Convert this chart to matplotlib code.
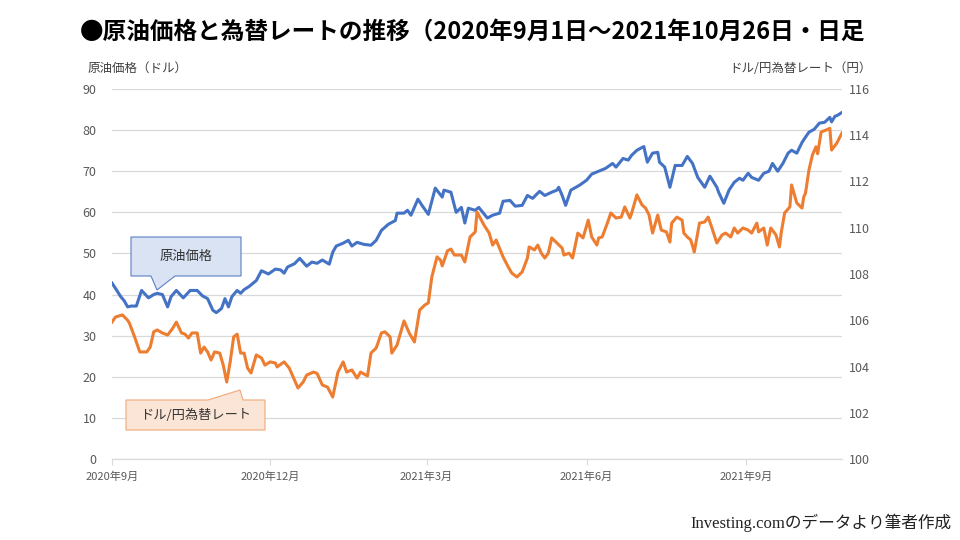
import pandas as pd
import matplotlib.pyplot as plt
from matplotlib.patches import Polygon

plt.rcParams['font.family'] = ['Noto Sans CJK JP', 'DejaVu Sans']

# days counted from 2020-09-01
start = pd.Timestamp('2020-09-01')
end = pd.Timestamp('2021-10-26')

oil_days = [0, 2, 5, 7, 9, 11, 14, 17, 21, 24, 26, 29, 32, 34, 37, 41, 45, 49, 52, 55,
            58, 60, 63, 65, 67, 69, 72, 74, 76, 79, 83, 86, 90, 94, 97, 99, 101, 105, 108, 112,
            115, 118, 121, 125, 127, 129, 133, 136, 138, 141, 145, 149, 152, 155, 159, 163, 164, 168, 170, 172,
            176, 179, 182, 186, 190, 191, 195, 198, 201, 203, 205, 209, 211, 216, 219, 223, 225, 229, 232, 236,
            239, 242, 246, 249, 253, 256, 257, 259, 261, 264, 269, 273, 276, 280, 284, 288, 290, 294, 297, 299,
            302, 306, 308, 311, 314, 315, 318, 321, 324, 328, 331, 334, 337, 341, 344, 348, 349, 352, 355, 358,
            361, 363, 366, 368, 372, 375, 378, 380, 383, 386, 389, 391, 394, 397, 399, 401, 404, 407, 410, 413,
            414, 416, 417, 420]
oil_price = [42.8, 41.5, 39.5, 38.5, 37.0, 37.2, 37.2, 41.0, 39.2, 40.0, 40.3, 40.0, 37.0, 39.5, 41.0, 39.2, 41.0, 41.0, 39.7, 39.0,
             36.2, 35.6, 36.6, 39.0, 37.0, 39.5, 41.0, 40.3, 41.2, 42.0, 43.4, 45.8, 45.0, 46.2, 46.0, 45.2, 46.7, 47.5, 48.8, 46.9,
             47.9, 47.6, 48.4, 47.4, 50.3, 51.8, 52.5, 53.2, 51.8, 52.7, 52.2, 52.0, 53.2, 55.6, 57.1, 58.0, 59.8, 59.8, 60.5, 59.3,
             63.2, 61.3, 59.5, 65.9, 63.7, 65.4, 64.9, 60.0, 61.2, 57.4, 61.0, 60.5, 61.2, 58.6, 59.3, 59.8, 62.7, 62.9, 61.5, 61.7,
             64.1, 63.4, 65.1, 64.1, 64.9, 65.4, 66.1, 64.1, 61.7, 65.4, 66.6, 67.8, 69.3, 70.0, 70.7, 71.9, 71.0, 73.1, 72.7, 73.9,
             75.1, 76.0, 72.2, 74.4, 74.6, 72.2, 71.0, 66.1, 71.4, 71.4, 73.6, 71.9, 68.5, 66.1, 68.8, 66.1, 64.9, 62.2, 65.4, 67.3,
             68.3, 67.8, 69.5, 68.5, 67.8, 69.5, 70.0, 71.9, 70.0, 71.9, 74.4, 75.1, 74.4, 77.0, 78.3, 79.5, 80.2, 81.7, 81.9, 83.1,
             82.0, 83.4, 83.5, 84.3]

fx_days = [0, 2, 6, 9, 10, 13, 16, 20, 22, 24, 26, 29, 32, 35, 37, 40, 42, 44, 46, 49,
           51, 53, 55, 57, 59, 62, 64, 66, 68, 70, 72, 74, 76, 78, 80, 83, 86, 88, 91, 94,
           95, 99, 102, 105, 107, 110, 112, 116, 118, 121, 124, 127, 130, 133, 135, 138, 141, 143, 147, 149,
           152, 155, 157, 160, 161, 164, 168, 171, 174, 177, 180, 182, 184, 187, 189, 190, 193, 195, 197, 201,
           203, 206, 209, 210, 214, 217, 219, 221, 225, 228, 230, 233, 236, 239, 240, 243, 245, 247, 249, 251,
           253, 256, 259, 260, 263, 265, 268, 271, 274, 276, 279, 280, 282, 285, 287, 290, 293, 295, 298, 299,
           302, 305, 307, 309, 311, 314, 316, 319, 321, 322, 325, 328, 329, 331, 333, 335, 338, 341, 343, 345,
           347, 348, 351, 353, 356, 358, 360, 363, 366, 368, 371, 372, 375, 377, 379, 382, 384, 385, 387, 390,
           391, 394, 397, 398, 399, 401, 403, 405, 406, 408, 411, 413, 414, 417, 420]
fx_rate = [105.92, 106.14, 106.23, 106.00, 105.88, 105.28, 104.63, 104.63, 104.84, 105.50, 105.58, 105.45, 105.36, 105.66, 105.92, 105.45, 105.40, 105.23, 105.45, 105.45,
           104.58, 104.84, 104.63, 104.28, 104.63, 104.58, 104.06, 103.33, 104.20, 105.28, 105.40, 104.58, 104.58, 103.93, 103.72, 104.50, 104.37, 104.06, 104.20, 104.15,
           103.98, 104.20, 103.93, 103.42, 103.07, 103.33, 103.63, 103.76, 103.70, 103.20, 103.11, 102.68, 103.76, 104.20, 103.76, 103.85, 103.50, 103.76, 103.59, 104.58,
           104.80, 105.45, 105.50, 105.28, 104.58, 104.93, 105.97, 105.45, 105.06, 106.44, 106.66, 106.75, 107.87, 108.74, 108.60, 108.35, 109.00, 109.08, 108.82, 108.82,
           108.52, 109.60, 109.82, 110.68, 110.12, 109.77, 109.25, 109.47, 108.74, 108.30, 108.04, 107.87, 108.09, 108.69, 109.17, 109.04, 109.25, 108.90, 108.69, 108.90,
           109.56, 109.34, 109.12, 108.82, 108.90, 108.69, 109.77, 109.56, 110.33, 109.60, 109.25, 109.56, 109.60, 110.20, 110.64, 110.42, 110.46, 110.90, 110.42, 110.64,
           111.42, 110.98, 110.85, 110.55, 109.77, 110.55, 109.90, 109.82, 109.38, 110.20, 110.46, 110.33, 109.77, 109.60, 109.47, 108.95, 110.20, 110.25, 110.46, 110.03,
           109.56, 109.34, 109.69, 109.77, 109.60, 109.99, 109.77, 109.99, 109.90, 109.77, 110.20, 109.82, 109.99, 109.25, 109.99, 109.69, 109.17, 109.77, 110.64, 110.90,
           111.85, 111.07, 110.85, 111.33, 111.50, 112.50, 113.15, 113.50, 113.20, 114.14, 114.23, 114.30, 113.36, 113.66, 114.10]

tick_dates = ['2020-09-01', '2020-12-01', '2021-03-01', '2021-06-01', '2021-09-01']
tick_labels = ['2020年9月', '2020年12月', '2021年3月', '2021年6月', '2021年9月']

oil_dates = start + pd.to_timedelta(oil_days, unit='D')
fx_dates = start + pd.to_timedelta(fx_days, unit='D')

W, H = 960, 540


def px(x, y):
    return (x / W, 1 - y / H)


fig = plt.figure(figsize=(9.6, 5.4), dpi=100)
ax = fig.add_axes([112 / W, 81 / H, 730 / W, 370 / H])
ax2 = ax.twinx()

ax.plot(oil_dates, oil_price, color='#4472c4', lw=2.2, solid_joinstyle='round')
ax2.plot(fx_dates, fx_rate, color='#ed7d31', lw=2.2, solid_joinstyle='round')

ax.set_xlim(start, end)
ax.set_ylim(0, 90)
ax2.set_ylim(100, 116)
ax.set_yticks(range(0, 91, 10))
ax2.set_yticks(range(100, 117, 2))
ax.set_xticks(pd.to_datetime(tick_dates))
ax.set_xticklabels(tick_labels)

ax.grid(axis='y', color='#d9d9d9', lw=0.9)
ax.set_axisbelow(True)
for a in (ax, ax2):
    for s in ('top', 'left', 'right'):
        a.spines[s].set_visible(False)
ax2.spines['bottom'].set_visible(False)
ax.spines['bottom'].set_color('#d9d9d9')
ax.spines['bottom'].set_linewidth(0.9)

ax.tick_params(axis='y', length=0, colors='#595959', labelsize=9, pad=11)
ax2.tick_params(axis='y', length=0, colors='#595959', labelsize=9, pad=5)
ax.tick_params(axis='x', length=4, color='#d9d9d9', labelcolor='#595959', labelsize=8, pad=5)

fig.text(80 / W, 1 - 32 / H, '●原油価格と為替レートの推移（2020年9月1日～2021年10月26日・日足',
         ha='left', va='center', fontsize=17, fontweight='bold', color='black')
fig.text(88 / W, 1 - 68 / H, '原油価格（ドル）', ha='left', va='center', fontsize=9, color='#404040')
fig.text(872 / W, 1 - 68 / H, 'ドル/円為替レート（円）', ha='right', va='center', fontsize=9, color='#404040')

# callouts
blue_box = [px(131, 237), px(241, 237), px(241, 276), px(175, 276), px(157, 290), px(151, 276), px(131, 276)]
fig.patches.append(Polygon(blue_box, closed=True, transform=fig.transFigure,
                           facecolor='#dae3f3', edgecolor='#5a7fc4', lw=0.8))
fig.text(186 / W, 1 - 256 / H, '原油価格', ha='center', va='center', fontsize=9.5, color='#333333')

orange_box = [px(126, 400), px(208, 400), px(240, 390), px(243, 400), px(265, 400), px(265, 430), px(126, 430)]
fig.patches.append(Polygon(orange_box, closed=True, transform=fig.transFigure,
                           facecolor='#fbe5d6', edgecolor='#f0a878', lw=0.8))
fig.text(196 / W, 1 - 415 / H, 'ドル/円為替レート', ha='center', va='center', fontsize=9.5, color='#333333')

fig.text(952 / W, 1 - 523 / H, 'Investing.comのデータより筆者作成', ha='right', va='center',
         fontsize=12, color='#222222', family=['Liberation Serif', 'Noto Sans CJK JP'])

fig.savefig('out.png', dpi=100, facecolor='white')
